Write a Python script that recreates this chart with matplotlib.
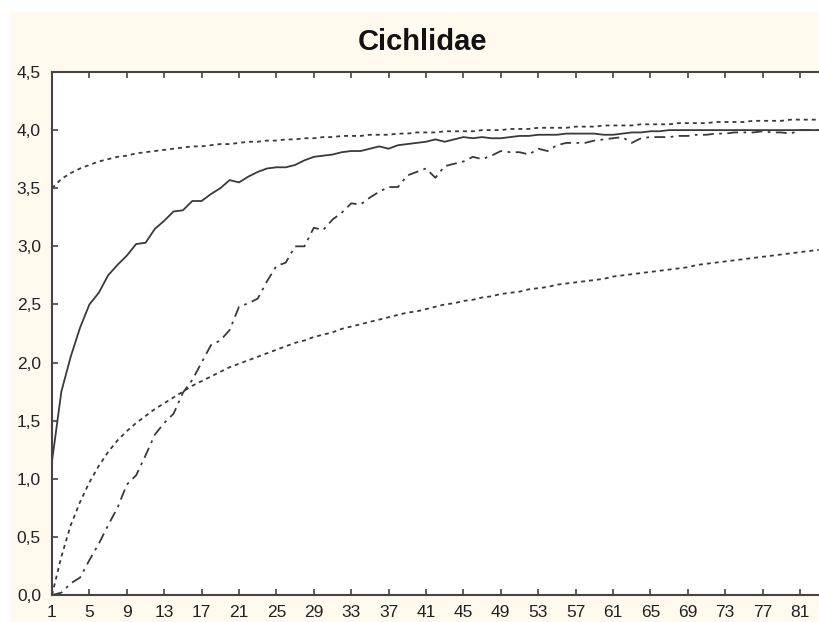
import numpy as np
import matplotlib
matplotlib.use('Agg')
import matplotlib.pyplot as plt
from matplotlib.patches import Rectangle

title = 'Cichlidae'
samples = list(range(1, 84))

# observed curve (solid)
observed = [1.15, 1.75, 2.05, 2.30, 2.50, 2.60, 2.75, 2.84, 2.92, 3.02,
            3.03, 3.15, 3.22, 3.30, 3.31, 3.39, 3.39, 3.45, 3.50, 3.57,
            3.55, 3.60, 3.64, 3.67, 3.68, 3.68, 3.70, 3.74, 3.77, 3.78,
            3.79, 3.81, 3.82, 3.82, 3.84, 3.86, 3.84, 3.87, 3.88, 3.89,
            3.90, 3.92, 3.90, 3.92, 3.94, 3.93, 3.94, 3.93, 3.93, 3.94,
            3.95, 3.95, 3.96, 3.96, 3.96, 3.97, 3.97, 3.97, 3.97, 3.96,
            3.96, 3.97, 3.98, 3.98, 3.99, 3.99, 4.00, 4.00, 4.00, 4.00,
            4.00, 4.00, 4.00, 4.00, 4.00, 4.00, 4.00, 4.00, 4.00, 4.00,
            4.00, 4.00, 4.00]

# dash-dot curve
dashdot = [0.00, 0.02, 0.10, 0.15, 0.30, 0.44, 0.60, 0.75, 0.95, 1.03,
           1.20, 1.38, 1.48, 1.56, 1.74, 1.85, 2.00, 2.15, 2.19, 2.28,
           2.48, 2.51, 2.55, 2.70, 2.83, 2.86, 3.00, 3.00, 3.16, 3.14,
           3.23, 3.29, 3.37, 3.36, 3.42, 3.47, 3.51, 3.51, 3.61, 3.64,
           3.67, 3.59, 3.69, 3.71, 3.73, 3.77, 3.75, 3.78, 3.82, 3.81,
           3.81, 3.79, 3.84, 3.82, 3.87, 3.89, 3.89, 3.89, 3.91, 3.92,
           3.93, 3.94, 3.89, 3.93, 3.94, 3.94, 3.94, 3.95, 3.95, 3.96,
           3.96, 3.97, 3.97, 3.98, 3.98, 3.98, 3.99, 3.98, 3.98, 3.97,
           4.00, 4.00, 4.00]

# upper dotted curve
upper = [3.50, 3.58, 3.63, 3.67, 3.70, 3.73, 3.75, 3.77, 3.78, 3.80,
         3.81, 3.82, 3.83, 3.84, 3.85, 3.86, 3.86, 3.87, 3.88, 3.88,
         3.89, 3.90, 3.90, 3.91, 3.91, 3.92, 3.92, 3.93, 3.93, 3.94,
         3.94, 3.95, 3.95, 3.95, 3.96, 3.96, 3.96, 3.97, 3.97, 3.98,
         3.98, 3.98, 3.99, 3.99, 3.99, 3.99, 4.00, 4.00, 4.00, 4.01,
         4.01, 4.01, 4.02, 4.02, 4.02, 4.02, 4.03, 4.03, 4.03, 4.04,
         4.04, 4.04, 4.04, 4.05, 4.05, 4.05, 4.05, 4.06, 4.06, 4.06,
         4.06, 4.07, 4.07, 4.07, 4.07, 4.08, 4.08, 4.08, 4.08, 4.09,
         4.09, 4.09, 4.09]

# lower dotted curve
lower = [0.00, 0.33, 0.60, 0.80, 0.97, 1.11, 1.23, 1.33, 1.41, 1.48,
         1.54, 1.60, 1.65, 1.70, 1.75, 1.80, 1.84, 1.88, 1.92, 1.96,
         1.99, 2.02, 2.05, 2.08, 2.11, 2.14, 2.17, 2.19, 2.22, 2.24,
         2.26, 2.29, 2.31, 2.33, 2.35, 2.37, 2.39, 2.41, 2.43, 2.44,
         2.46, 2.48, 2.50, 2.51, 2.53, 2.54, 2.56, 2.57, 2.59, 2.60,
         2.61, 2.63, 2.64, 2.65, 2.67, 2.68, 2.69, 2.70, 2.71, 2.72,
         2.74, 2.75, 2.76, 2.77, 2.78, 2.79, 2.80, 2.81, 2.82, 2.84,
         2.85, 2.86, 2.87, 2.88, 2.89, 2.90, 2.91, 2.92, 2.93, 2.94,
         2.95, 2.96, 2.97]

xticks = list(range(1, 82, 4))
yticks = [0.0, 0.5, 1.0, 1.5, 2.0, 2.5, 3.0, 3.5, 4.0, 4.5]

plt.rcParams['font.family'] = ['Liberation Sans', 'DejaVu Sans']

fig = plt.figure(figsize=(8.2, 6.22), dpi=100)
fig.patch.set_facecolor('white')
# cream panel behind everything, white margin on top and left
bg = Rectangle((10 / 820, 0), 1, 1 - 12 / 622, transform=fig.transFigure,
               facecolor='#fff9ee', edgecolor='none', zorder=-10)
fig.patches.append(bg)

ax = fig.add_axes([52 / 820, 1 - 595 / 622, 1 - 52 / 820, (595 - 72) / 622])
ax.set_zorder(1)
ax.set_facecolor('white')

lc = '#3a3a3a'
ax.plot(samples, observed, color=lc, lw=1.3, solid_joinstyle='round')
ax.plot(samples, dashdot, color=lc, lw=1.3, dashes=(6, 3, 1.5, 3))
ax.plot(samples, upper, color=lc, lw=1.3, dashes=(2.2, 2.2))
ax.plot(samples, lower, color=lc, lw=1.3, dashes=(2.2, 2.2))

ax.set_xlim(1, 1 + 768 / 9.35)
ax.set_ylim(0, 4.5)
ax.set_xticks(xticks)
ax.set_xticklabels([str(v) for v in xticks])
ax.set_yticks(yticks)
ax.set_yticklabels([('%.1f' % v).replace('.', ',') for v in yticks])

for side in ['left', 'bottom', 'top']:
    ax.spines[side].set_color('#444444')
    ax.spines[side].set_linewidth(1.5)
ax.spines['right'].set_visible(False)
ax.tick_params(direction='in', length=4, width=1.2, color='#444444',
               labelsize=12.5, labelcolor='#222222', top=True, right=False)
ax.tick_params(axis='x', pad=7)
ax.tick_params(axis='y', pad=8)

fig.text(423 / 820, 1 - 42 / 622, title, ha='center', va='center',
         fontsize=21, fontweight='bold', color='#111111', zorder=2)

fig.savefig('out.png', dpi=100, facecolor=fig.get_facecolor())
